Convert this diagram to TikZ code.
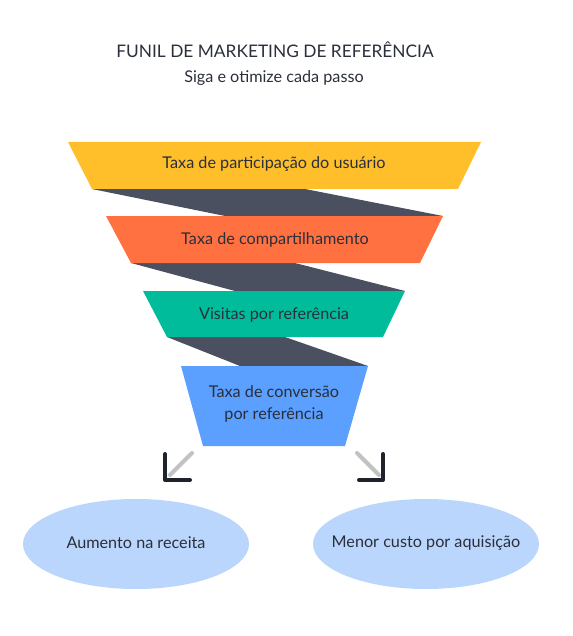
\documentclass[tikz,border=0pt]{standalone}
\usepackage{fontspec}
\setmainfont{Lato}
\usepackage{xcolor}
\usepackage{tikz}

\definecolor{funyellow}{HTML}{FFBF2B}
\definecolor{funorange}{HTML}{FF7140}
\definecolor{fungreen}{HTML}{00BC9A}
\definecolor{funblue}{HTML}{5B9FFF}
\definecolor{funband}{HTML}{4A5060}
\definecolor{funoval}{HTML}{BAD6FC}
\definecolor{funtext}{HTML}{2A2F3B}
\definecolor{arrowgray}{HTML}{C2C2C2}
\definecolor{arrowdark}{HTML}{1F232C}

\tikzset{
  label/.style={draw=none, text=funtext, font=\fontsize{16.2}{22.5}\selectfont, align=center},
  tail/.style={arrowgray, line width=4pt, line cap=round},
  head/.style={arrowdark, line width=4pt, line cap=round, line join=round}
}

\begin{document}
\begin{tikzpicture}[x=1pt,y=-1pt]
             \useasboundingbox (0,0) rectangle (572,636);

             % title
             \node[label, font=\fontsize{17.3}{20}\selectfont] (title) at (275,50) {FUNIL DE MARKETING DE REFERÊNCIA};
             \node[label] (subtitle) at (274,78) {Siga e otimize cada passo};

             % bands between the steps
             \fill[funband] (92,189)--(305,189)--(443,216)--(225,216)--cycle;
             \fill[funband] (131,263)--(295,263)--(405,291)--(235,291)--cycle;
             \fill[funband] (167,337)--(285,337)--(368,366)--(240,366)--cycle;

             % steps
             \fill[funyellow] (68,142)--(481,142)--(458,189)--(92,189)--cycle;
             \fill[funorange] (106,216)--(443,216)--(420,263)--(131,263)--cycle;
             \fill[fungreen] (143,291)--(405,291)--(383,337)--(167,337)--cycle;
             \fill[funblue] (181,366)--(368,366)--(345,446)--(203,446)--cycle;

             \node[label] (step1) at (274,164) {Taxa de participação do usuário};
             \node[label] (step2) at (275,240) {Taxa de compartilhamento};
             \node[label] (step3) at (274,315) {Visitas por referência};
             \node[label] (step4) at (274,404) {Taxa de conversão\\por referência};

             % arrows
             \draw[tail] (192,453) -- (170,475);
             \draw[head] (165,454) -- (165,480) -- (190,480);
             \draw[tail] (357,453) -- (379,475);
             \draw[head] (383,454) -- (383,480) -- (359,480);

             % results
             \fill[funoval] (136,544) ellipse (113 and 45);
             \fill[funoval] (426,544) ellipse (113 and 45);
             \node[label] (gain) at (136,543) {Aumento na receita};
             \node[label] (cost) at (426,543) {Menor custo por aquisição};
             \end{tikzpicture}
\end{document}
